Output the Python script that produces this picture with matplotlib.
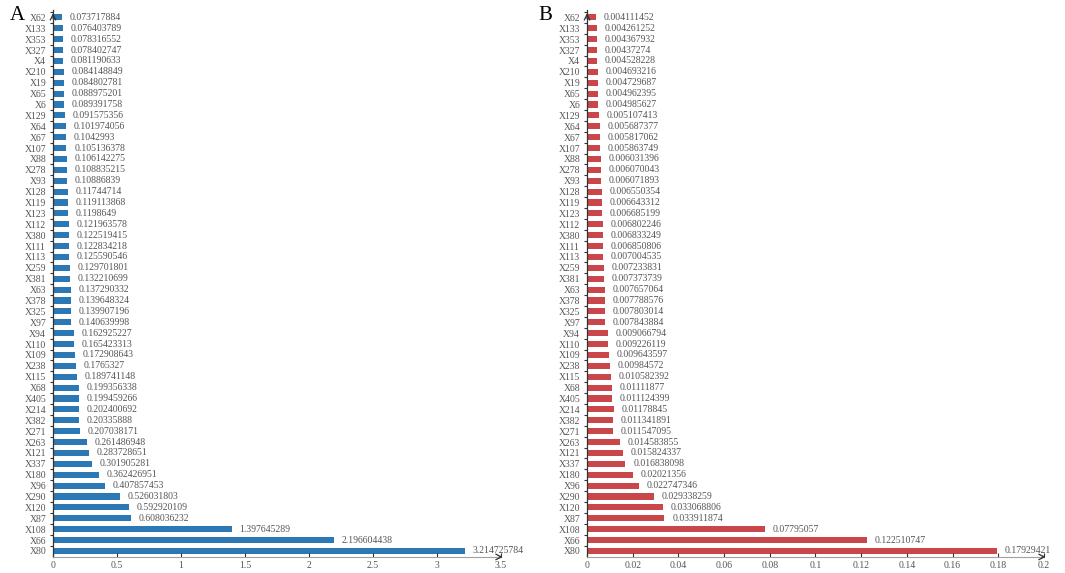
import matplotlib.pyplot as plt
import numpy as np

plt.rcParams['font.family'] = ['Liberation Serif', 'DejaVu Serif']

# features, top to bottom as in the picture
features = ['X62', 'X133', 'X353', 'X327', 'X4', 'X210', 'X19', 'X65', 'X6', 'X129',
            'X64', 'X67', 'X107', 'X88', 'X278', 'X93', 'X128', 'X119', 'X123', 'X112',
            'X380', 'X111', 'X113', 'X259', 'X381', 'X63', 'X378', 'X325', 'X97', 'X94',
            'X110', 'X109', 'X238', 'X115', 'X68', 'X405', 'X214', 'X382', 'X271', 'X263',
            'X121', 'X337', 'X180', 'X96', 'X290', 'X120', 'X87', 'X108', 'X66', 'X80']

values_a = [0.073717884, 0.076403789, 0.078316552, 0.078402747, 0.081190633,
            0.084148849, 0.084802781, 0.088975201, 0.089391758, 0.091575356,
            0.101974056, 0.1042993, 0.105136378, 0.106142275, 0.108835215,
            0.10886839, 0.11744714, 0.119113868, 0.1198649, 0.121963578,
            0.122519415, 0.122834218, 0.125590546, 0.129701801, 0.132210699,
            0.137290332, 0.139648324, 0.139907196, 0.140639998, 0.162925227,
            0.165423313, 0.172908643, 0.1765327, 0.189741148, 0.199356338,
            0.199459266, 0.202400692, 0.20335888, 0.207038171, 0.261486948,
            0.283728651, 0.301905281, 0.362426951, 0.407857453, 0.526031803,
            0.592920109, 0.608036232, 1.397645289, 2.196604438, 3.214725784]

values_b = [0.004111452, 0.004261252, 0.004367932, 0.00437274, 0.004528228,
            0.004693216, 0.004729687, 0.004962395, 0.004985627, 0.005107413,
            0.005687377, 0.005817062, 0.005863749, 0.006031396, 0.006070043,
            0.006071893, 0.006550354, 0.006643312, 0.006685199, 0.006802246,
            0.006833249, 0.006850806, 0.007004535, 0.007233831, 0.007373739,
            0.007657064, 0.007788576, 0.007803014, 0.007843884, 0.009066794,
            0.009226119, 0.009643597, 0.00984572, 0.010582392, 0.01111877,
            0.011124399, 0.01178845, 0.011341891, 0.011547095, 0.014583855,
            0.015824337, 0.016838098, 0.02021356, 0.022747346, 0.029338259,
            0.033068806, 0.033911874, 0.07795057, 0.122510747, 0.17929421]

xticks_a = [0, 0.5, 1, 1.5, 2, 2.5, 3, 3.5]
xticks_b = [0, 0.02, 0.04, 0.06, 0.08, 0.1, 0.12, 0.14, 0.16, 0.18, 0.2]

fig = plt.figure(figsize=(10.65, 5.73), dpi=100)
ax_a = fig.add_axes([0.0498, 0.028, 0.4207, 0.954])
ax_b = fig.add_axes([0.5512, 0.028, 0.429, 0.954])

text_gray = '#555555'


def draw_panel(ax, values, color, xticks):
    n = len(values)
    # first feature on top
    ypos = np.arange(n)[::-1]
    ax.barh(ypos, values, height=0.56, color=color)
    for y, v in zip(ypos, values):
        ax.annotate(f'{v:.10g}', (v, y), xytext=(5.5, 0), textcoords='offset points',
                    va='center', ha='left', fontsize=7, color=text_gray)

    ax.set_xlim(0, xticks[-1])
    ax.set_ylim(-0.55, n - 0.35)
    ax.set_yticks(ypos)
    ax.set_yticklabels(features, fontsize=7, color=text_gray)
    ax.set_yticks(np.arange(n) + 0.5, minor=True)
    ax.tick_params(axis='y', which='major', length=0, pad=5)
    ax.tick_params(axis='y', which='minor', length=2, width=0.8, color='#333333')
    ax.set_xticks(xticks)
    ax.set_xticklabels([f'{t:g}' for t in xticks], fontsize=7, color=text_gray)
    ax.tick_params(axis='x', direction='in', length=3, width=0.8, color='#333333', pad=3)

    for side in ['top', 'right']:
        ax.spines[side].set_visible(False)
    ax.spines['bottom'].set_color('#a0a0a0')
    ax.spines['bottom'].set_linewidth(0.8)
    ax.spines['left'].set_color('#333333')
    ax.spines['left'].set_linewidth(0.9)

    # arrow heads on the axes
    ax.annotate('', xy=(0, 1.0), xytext=(0, 0.98), xycoords='axes fraction',
                arrowprops=dict(arrowstyle='->', color='#333333', lw=0.9))
    ax.annotate('', xy=(1.01, 0), xytext=(0.99, 0), xycoords='axes fraction',
                arrowprops=dict(arrowstyle='->', color='#333333', lw=0.9))


draw_panel(ax_a, values_a, '#2b78b4', xticks_a)
draw_panel(ax_b, values_b, '#c9474b', xticks_b)

fig.text(10 / 1065, 1 - 15 / 573, 'A', fontsize=15, va='center', ha='left')
fig.text(538 / 1065, 1 - 15 / 573, 'B', fontsize=15, va='center', ha='left')

plt.savefig('out.png', dpi=100)
plt.close()
